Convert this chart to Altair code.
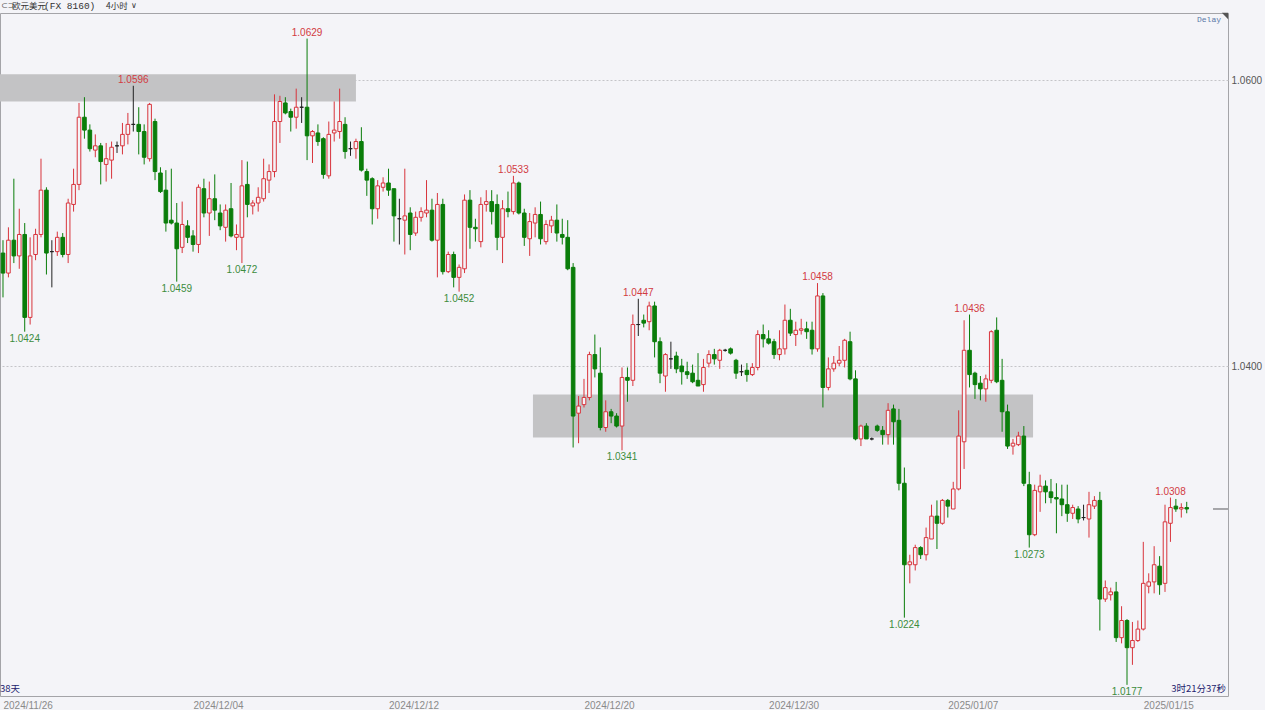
import altair as alt
import pandas as pd

# EUR/USD, 4-hour candles (oldest first)
opens = [
    1.0479, 1.0465, 1.0488, 1.0477, 1.0492, 1.0434, 1.0478, 1.0492, 1.0523, 1.0480,
    1.0480, 1.0490, 1.0478, 1.0513, 1.0527, 1.0574, 1.0565, 1.0551, 1.0554, 1.0541,
    1.0544, 1.0554, 1.0554, 1.0562, 1.0569, 1.0569, 1.0564, 1.0545, 1.0571, 1.0535,
    1.0523, 1.0502, 1.0500, 1.0483, 1.0498, 1.0491, 1.0485, 1.0524, 1.0507, 1.0517,
    1.0507, 1.0497, 1.0510, 1.0490, 1.0490, 1.0527, 1.0512, 1.0514, 1.0517, 1.0530,
    1.0536, 1.0571, 1.0584, 1.0578, 1.0574, 1.0581, 1.0581, 1.0561, 1.0563, 1.0559,
    1.0533, 1.0563, 1.0564, 1.0569, 1.0552, 1.0552, 1.0557, 1.0536, 1.0531, 1.0510,
    1.0525, 1.0528, 1.0524, 1.0503, 1.0502, 1.0507, 1.0493, 1.0504, 1.0507, 1.0509,
    1.0488, 1.0513, 1.0466, 1.0478, 1.0462, 1.0468, 1.0516, 1.0497, 1.0487, 1.0513,
    1.0515, 1.0513, 1.0490, 1.0510, 1.0508, 1.0528, 1.0507, 1.0489, 1.0500, 1.0506,
    1.0487, 1.0498, 1.0502, 1.0492, 1.0490, 1.0469, 1.0367, 1.0373, 1.0378, 1.0408,
    1.0395, 1.0357, 1.0368, 1.0365, 1.0358, 1.0392, 1.0390, 1.0429, 1.0432, 1.0431,
    1.0442, 1.0417, 1.0393, 1.0405, 1.0407, 1.0400, 1.0396, 1.0395, 1.0390, 1.0387,
    1.0402, 1.0408, 1.0404, 1.0411, 1.0412, 1.0404, 1.0396, 1.0397, 1.0394, 1.0399,
    1.0422, 1.0419, 1.0417, 1.0408, 1.0412, 1.0432, 1.0422, 1.0425, 1.0426, 1.0425,
    1.0412, 1.0449, 1.0385, 1.0398, 1.0402, 1.0404, 1.0417, 1.0391, 1.0349, 1.0358,
    1.0349, 1.0358, 1.0355, 1.0352, 1.0370, 1.0362, 1.0318, 1.0261, 1.0261, 1.0273,
    1.0268, 1.0279, 1.0295, 1.0290, 1.0306, 1.0300, 1.0314, 1.0347, 1.0411, 1.0395,
    1.0388, 1.0384, 1.0390, 1.0425, 1.0390, 1.0368, 1.0344, 1.0345, 1.0351, 1.0317,
    1.0282, 1.0312, 1.0316, 1.0312, 1.0308, 1.0307, 1.0303, 1.0297, 1.0300, 1.0294,
    1.0293, 1.0302, 1.0306, 1.0237, 1.0240, 1.0242, 1.0210, 1.0222, 1.0203, 1.0208,
    1.0216, 1.0246, 1.0249, 1.0260, 1.0248, 1.0290, 1.0302, 1.0300, 1.0301,
]
highs = [
    1.0488, 1.0497, 1.0531, 1.0510, 1.0500, 1.0490, 1.0496, 1.0545, 1.0525, 1.0488,
    1.0494, 1.0493, 1.0517, 1.0538, 1.0584, 1.0588, 1.0569, 1.0562, 1.0556, 1.0556,
    1.0557, 1.0557, 1.0570, 1.0577, 1.0596, 1.0581, 1.0569, 1.0584, 1.0573, 1.0539,
    1.0537, 1.0538, 1.0514, 1.0515, 1.0502, 1.0495, 1.0527, 1.0531, 1.0529, 1.0534,
    1.0513, 1.0513, 1.0528, 1.0499, 1.0544, 1.0543, 1.0516, 1.0525, 1.0545, 1.0541,
    1.0590, 1.0589, 1.0588, 1.0580, 1.0594, 1.0588, 1.0629, 1.0565, 1.0569, 1.0560,
    1.0571, 1.0585, 1.0594, 1.0574, 1.0557, 1.0559, 1.0567, 1.0538, 1.0532, 1.0530,
    1.0532, 1.0538, 1.0524, 1.0517, 1.0538, 1.0511, 1.0508, 1.0511, 1.0530, 1.0517,
    1.0521, 1.0517, 1.0480, 1.0480, 1.0471, 1.0520, 1.0523, 1.0503, 1.0518, 1.0523,
    1.0523, 1.0520, 1.0516, 1.0522, 1.0533, 1.0529, 1.0510, 1.0507, 1.0511, 1.0515,
    1.0502, 1.0505, 1.0513, 1.0503, 1.0502, 1.0472, 1.0379, 1.0391, 1.0410, 1.0422,
    1.0413, 1.0376, 1.0370, 1.0367, 1.0399, 1.0399, 1.0436, 1.0447, 1.0436, 1.0445,
    1.0445, 1.0420, 1.0409, 1.0417, 1.0410, 1.0405, 1.0403, 1.0401, 1.0409, 1.0405,
    1.0411, 1.0412, 1.0412, 1.0412, 1.0413, 1.0405, 1.0401, 1.0402, 1.0402, 1.0425,
    1.0429, 1.0425, 1.0419, 1.0425, 1.0443, 1.0440, 1.0431, 1.0433, 1.0431, 1.0431,
    1.0458, 1.0451, 1.0406, 1.0407, 1.0414, 1.0419, 1.0424, 1.0397, 1.0359, 1.0360,
    1.0350, 1.0359, 1.0358, 1.0374, 1.0373, 1.0370, 1.0329, 1.0268, 1.0275, 1.0274,
    1.0287, 1.0303, 1.0306, 1.0307, 1.0307, 1.0319, 1.0369, 1.0432, 1.0436, 1.0396,
    1.0393, 1.0394, 1.0425, 1.0434, 1.0405, 1.0373, 1.0349, 1.0354, 1.0358, 1.0326,
    1.0317, 1.0324, 1.0320, 1.0321, 1.0318, 1.0317, 1.0317, 1.0303, 1.0302, 1.0303,
    1.0312, 1.0309, 1.0312, 1.0250, 1.0245, 1.0249, 1.0232, 1.0223, 1.0221, 1.0222,
    1.0277, 1.0255, 1.0274, 1.0267, 1.0303, 1.0308, 1.0307, 1.0304, 1.0305,
]
lows = [
    1.0448, 1.0462, 1.0472, 1.0468, 1.0424, 1.0429, 1.0474, 1.0490, 1.0464, 1.0455,
    1.0477, 1.0476, 1.0472, 1.0508, 1.0523, 1.0559, 1.0550, 1.0546, 1.0527, 1.0529,
    1.0531, 1.0549, 1.0548, 1.0555, 1.0564, 1.0548, 1.0541, 1.0543, 1.0530, 1.0521,
    1.0494, 1.0499, 1.0459, 1.0479, 1.0486, 1.0480, 1.0479, 1.0504, 1.0491, 1.0502,
    1.0495, 1.0487, 1.0490, 1.0481, 1.0472, 1.0504, 1.0506, 1.0508, 1.0515, 1.0521,
    1.0532, 1.0556, 1.0576, 1.0564, 1.0566, 1.0570, 1.0544, 1.0542, 1.0554, 1.0531,
    1.0531, 1.0557, 1.0559, 1.0545, 1.0547, 1.0545, 1.0536, 1.0519, 1.0499, 1.0503,
    1.0522, 1.0519, 1.0487, 1.0485, 1.0478, 1.0481, 1.0491, 1.0501, 1.0504, 1.0487,
    1.0462, 1.0464, 1.0465, 1.0455, 1.0452, 1.0465, 1.0482, 1.0487, 1.0483, 1.0508,
    1.0499, 1.0481, 1.0472, 1.0504, 1.0506, 1.0506, 1.0484, 1.0477, 1.0490, 1.0485,
    1.0485, 1.0493, 1.0487, 1.0485, 1.0467, 1.0343, 1.0346, 1.0371, 1.0376, 1.0392,
    1.0355, 1.0354, 1.0360, 1.0357, 1.0341, 1.0375, 1.0386, 1.0421, 1.0427, 1.0425,
    1.0406, 1.0388, 1.0382, 1.0398, 1.0395, 1.0387, 1.0391, 1.0388, 1.0386, 1.0382,
    1.0399, 1.0401, 1.0398, 1.0410, 1.0408, 1.0391, 1.0393, 1.0389, 1.0393, 1.0397,
    1.0413, 1.0415, 1.0405, 1.0404, 1.0408, 1.0421, 1.0414, 1.0422, 1.0419, 1.0408,
    1.0410, 1.0371, 1.0383, 1.0396, 1.0400, 1.0399, 1.0390, 1.0348, 1.0344, 1.0349,
    1.0348, 1.0354, 1.0345, 1.0345, 1.0345, 1.0313, 1.0224, 1.0248, 1.0257, 1.0265,
    1.0264, 1.0279, 1.0272, 1.0289, 1.0294, 1.0300, 1.0313, 1.0328, 1.0385, 1.0377,
    1.0376, 1.0375, 1.0388, 1.0388, 1.0354, 1.0342, 1.0338, 1.0344, 1.0316, 1.0273,
    1.0281, 1.0298, 1.0304, 1.0304, 1.0283, 1.0295, 1.0291, 1.0293, 1.0290, 1.0292,
    1.0280, 1.0300, 1.0215, 1.0235, 1.0236, 1.0207, 1.0206, 1.0177, 1.0191, 1.0207,
    1.0215, 1.0241, 1.0241, 1.0240, 1.0242, 1.0277, 1.0298, 1.0294, 1.0297,
]
closes = [
    1.0465, 1.0488, 1.0477, 1.0492, 1.0434, 1.0477, 1.0492, 1.0523, 1.0479, 1.0480,
    1.0490, 1.0478, 1.0514, 1.0527, 1.0574, 1.0565, 1.0552, 1.0554, 1.0543, 1.0545,
    1.0553, 1.0554, 1.0562, 1.0569, 1.0569, 1.0564, 1.0546, 1.0583, 1.0536, 1.0522,
    1.0500, 1.0500, 1.0482, 1.0499, 1.0490, 1.0485, 1.0525, 1.0507, 1.0517, 1.0509,
    1.0498, 1.0509, 1.0491, 1.0492, 1.0526, 1.0513, 1.0514, 1.0518, 1.0531, 1.0536,
    1.0571, 1.0585, 1.0577, 1.0574, 1.0581, 1.0581, 1.0561, 1.0564, 1.0557, 1.0534,
    1.0562, 1.0565, 1.0571, 1.0550, 1.0552, 1.0557, 1.0537, 1.0530, 1.0510, 1.0526,
    1.0528, 1.0523, 1.0505, 1.0503, 1.0505, 1.0492, 1.0504, 1.0508, 1.0509, 1.0488,
    1.0513, 1.0466, 1.0478, 1.0462, 1.0469, 1.0516, 1.0497, 1.0496, 1.0513, 1.0515,
    1.0508, 1.0490, 1.0510, 1.0508, 1.0528, 1.0507, 1.0490, 1.0501, 1.0506, 1.0489,
    1.0499, 1.0502, 1.0493, 1.0490, 1.0468, 1.0365, 1.0372, 1.0378, 1.0408, 1.0398,
    1.0357, 1.0368, 1.0365, 1.0358, 1.0392, 1.0390, 1.0429, 1.0429, 1.0430, 1.0442,
    1.0417, 1.0395, 1.0408, 1.0405, 1.0398, 1.0396, 1.0394, 1.0389, 1.0386, 1.0399,
    1.0408, 1.0405, 1.0411, 1.0411, 1.0409, 1.0395, 1.0396, 1.0394, 1.0399, 1.0422,
    1.0419, 1.0416, 1.0408, 1.0412, 1.0432, 1.0423, 1.0425, 1.0426, 1.0424, 1.0412,
    1.0449, 1.0385, 1.0398, 1.0402, 1.0404, 1.0418, 1.0391, 1.0349, 1.0358, 1.0349,
    1.0349, 1.0355, 1.0352, 1.0369, 1.0361, 1.0318, 1.0261, 1.0263, 1.0273, 1.0268,
    1.0280, 1.0295, 1.0290, 1.0306, 1.0302, 1.0314, 1.0351, 1.0411, 1.0394, 1.0387,
    1.0384, 1.0391, 1.0424, 1.0389, 1.0368, 1.0344, 1.0346, 1.0351, 1.0318, 1.0282,
    1.0313, 1.0316, 1.0312, 1.0308, 1.0307, 1.0303, 1.0297, 1.0301, 1.0293, 1.0294,
    1.0303, 1.0306, 1.0237, 1.0245, 1.0242, 1.0210, 1.0222, 1.0203, 1.0208, 1.0216,
    1.0248, 1.0249, 1.0261, 1.0247, 1.0291, 1.0301, 1.0300, 1.0301, 1.0300,
]

# candle index where each date label starts
date_idx = [0, 35, 71, 107, 141, 174, 210]
date_text = ["2024/11/26", "2024/12/04", "2024/12/12", "2024/12/20",
             "2024/12/30", "2025/01/07", "2025/01/15"]

# swing highs / lows that carry a price tag
mark_idx = [4, 24, 32, 44, 56, 84, 94, 114, 117, 150, 166, 178, 189, 207, 215]
mark_side = ["low", "high", "low", "low", "high", "low", "high", "low",
             "high", "high", "low", "high", "low", "low", "high"]

# shaded supply / demand zones (candle-index span, price span)
zone_i0 = [-0.6, 97.6]
zone_i1 = [65.0, 189.7]
zone_top = [1.0604, 1.0380]
zone_bottom = [1.0585, 1.0350]

BG = "#f4f4f8"
UP = "#d8343c"
DOWN = "#0a7d0a"
FLAT = "#222222"
UP_TXT = "#d23a42"
DOWN_TXT = "#3c8c3c"

n = len(opens)
candles = pd.DataFrame({"i": list(range(n)), "open": opens, "high": highs,
                        "low": lows, "close": closes})
candles["dir"] = ["up" if c > o else ("down" if c < o else "flat")
                  for o, c in zip(opens, closes)]

tags = pd.DataFrame({"i": mark_idx, "side": mark_side})
tags["price"] = [highs[i] if s == "high" else lows[i] for i, s in zip(mark_idx, mark_side)]
tags["text"] = [f"{p:.4f}" for p in tags["price"]]

zones = pd.DataFrame({"i0": zone_i0, "i1": zone_i1, "top": zone_top, "bottom": zone_bottom})
last = pd.DataFrame({"close": [closes[-1]]})

x_scale = alt.Scale(domain=[-0.55, 225.6], nice=False, zero=False, padding=0)
y_scale = alt.Scale(domain=[1.01692, 1.06469], nice=False, zero=False, padding=0)

date_expr = " : ".join(f"datum.value == {i} ? '{d}'" for i, d in zip(date_idx, date_text)) + " : ''"
x_axis = alt.Axis(values=date_idx, labelExpr=date_expr, labelAlign="left",
                  labelBaseline="top", labelPadding=4, labelFontSize=10,
                  labelFont="Liberation Sans", labelColor="#8a8a8a", ticks=False,
                  domain=False, grid=False, labelOverlap=False, labelFlush=False,
                  labelBound=False, title=None)
y_axis = alt.Axis(orient="right", values=[1.04, 1.06], format=".4f", labelFontSize=10,
                  labelFont="Liberation Sans", labelColor="#555555", labelPadding=3,
                  ticks=False, domain=False, grid=True, gridDash=[2, 2],
                  gridColor="#c4c4c8", title=None)

dirs = ["up", "down", "flat"]
stroke_scale = alt.Scale(domain=dirs, range=[UP, DOWN, FLAT])
fill_scale = alt.Scale(domain=dirs, range=[BG, DOWN, FLAT])

X = alt.X("i:Q", scale=x_scale, axis=x_axis)

zone_layer = alt.Chart(zones).mark_rect(color="#c3c3c5").encode(
    x=alt.X("i0:Q", scale=x_scale, axis=x_axis), x2="i1:Q",
    y=alt.Y("top:Q", scale=y_scale, axis=y_axis), y2="bottom:Q",
)

wicks = alt.Chart(candles).mark_rule(strokeWidth=1).encode(
    x=X,
    y=alt.Y("low:Q", scale=y_scale, axis=y_axis), y2="high:Q",
    color=alt.Color("dir:N", scale=stroke_scale, legend=None),
)

bodies = alt.Chart(candles).mark_bar(size=3.6, strokeWidth=1).encode(
    x=X,
    y=alt.Y("open:Q", scale=y_scale, axis=y_axis), y2="close:Q",
    fill=alt.Fill("dir:N", scale=fill_scale, legend=None),
    stroke=alt.Stroke("dir:N", scale=stroke_scale, legend=None),
)

tag_font = dict(font="Liberation Sans", fontSize=10)
high_tags = alt.Chart(tags[tags["side"] == "high"]).mark_text(
    baseline="alphabetic", dy=-3, color=UP_TXT, **tag_font
).encode(x=X, y=alt.Y("price:Q", scale=y_scale, axis=y_axis), text="text:N")

low_tags = alt.Chart(tags[tags["side"] == "low"]).mark_text(
    baseline="alphabetic", dy=10, color=DOWN_TXT, **tag_font
).encode(x=X, y=alt.Y("price:Q", scale=y_scale, axis=y_axis), text="text:N")

# short marker for the latest price at the right edge
last_mark = alt.Chart(last).mark_rule(color="#8c8c90", strokeWidth=1.5).encode(
    x=alt.value(1213), x2=alt.value(1228),
    y=alt.Y("close:Q", scale=y_scale, axis=y_axis),
)


def label(text, x, y, **kw):
    return alt.Chart(pd.DataFrame({"t": [text]})).mark_text(**kw).encode(
        text="t:N", x=alt.value(x), y=alt.value(y)
    )


header = [
    label("⊂⊃", 1, -7, align="left", baseline="middle", font="DejaVu Sans",
          fontSize=8, color="#555555"),
    label("欧元美元", 12, -7, align="left", baseline="middle",
          font="Noto Sans CJK SC", fontSize=8.5, color="#333333"),
    label("(FX 8160)", 44, -7, align="left", baseline="middle",
          font="Liberation Mono", fontSize=9.5, color="#333333"),
    label("4小时", 106, -7, align="left", baseline="middle",
          font="Noto Sans CJK SC", fontSize=8.5, color="#333333"),
    label("∨", 131, -7, align="left", baseline="middle", font="DejaVu Sans",
          fontSize=8, color="#333333"),
    label("Delay", 1221, 7, align="right", baseline="middle",
          font="Liberation Mono", fontSize=8, color="#5a78a8"),
    label("38天", 0, 676, align="left", baseline="middle",
          font="Noto Sans CJK SC", fontSize=9.5, color="#23236e"),
    label("3时21分37秒", 1226, 676, align="right", baseline="middle",
          font="Noto Sans CJK SC", fontSize=9.5, color="#23236e"),
]

corner = alt.Chart(pd.DataFrame({"t": [1]})).mark_point(
    shape="M -1 -1 L 1 -1 L 1 1 Z", filled=True, color="#555555", size=40, opacity=1
).encode(x=alt.value(1225), y=alt.value(3))

chart = alt.layer(
    zone_layer, wicks, bodies, high_tags, low_tags, last_mark, corner, *header
).properties(
    width=1228,
    height=683,
    padding={"left": 0, "top": 13, "right": 37, "bottom": 14},
    autosize=alt.AutoSizeParams(type="none"),
    background=BG,
).configure_view(
    stroke="#a4a4a8", strokeWidth=1, fill=BG
)

chart.save("out.html", embed_options={"renderer": "svg", "actions": False})
